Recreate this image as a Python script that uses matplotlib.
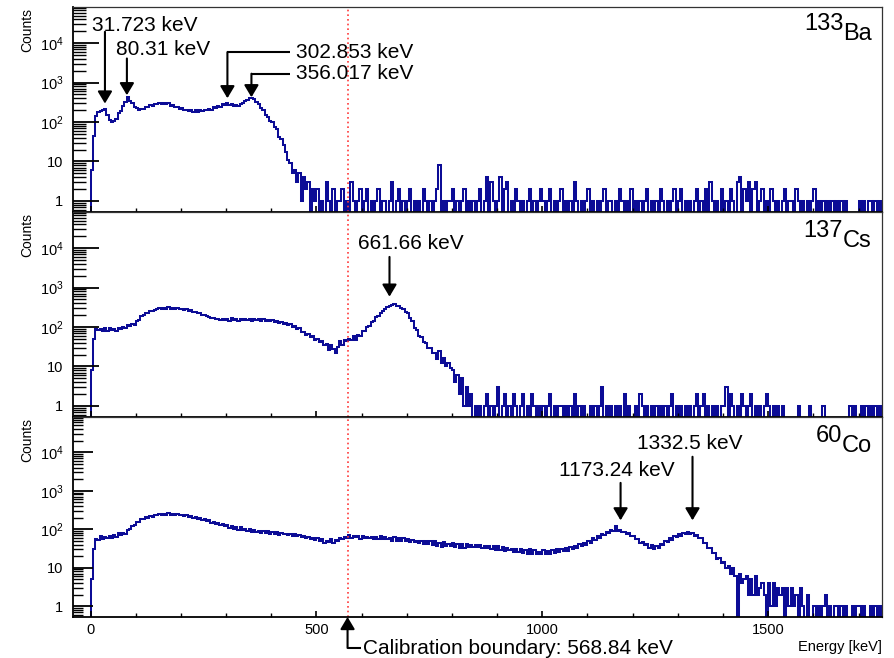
import numpy as np
import matplotlib
matplotlib.use("Agg")
import matplotlib.pyplot as plt
from matplotlib.ticker import FixedLocator, MultipleLocator, NullFormatter, LogLocator

plt.rcParams['font.family'] = ['Liberation Sans', 'DejaVu Sans']

# Gamma spectra, counts per 5 keV bin starting at 0 keV
bin_width = 5

ba133_counts = [
    6, 45, 140, 175, 190, 205, 218, 150, 112, 100,
    108, 122, 165, 195, 255, 325, 420, 345, 298, 245,
    232, 205, 212, 210, 240, 238, 270, 262, 290, 282,
    305, 292, 310, 288, 296, 262, 272, 240, 242, 220,
    222, 198, 206, 194, 200, 182, 198, 180, 196, 186,
    204, 198, 218, 205, 240, 228, 258, 245, 280, 268,
    300, 276, 285, 262, 272, 260, 292, 300, 348, 370,
    412, 418, 395, 330, 292, 225, 196, 152, 134, 104,
    100, 76, 66, 42, 38, 26, 17, 11, 9, 5,
    6, 3, 5, 1, 4, 2, 3, 0, 2, 1,
    2, 0, 1, 0, 3, 1, 0, 2, 0, 1,
    1, 2, 0, 1, 0, 3, 1, 0, 1, 2,
    0, 1, 2, 0, 1, 0, 1, 2, 0, 1,
    1, 0, 1, 3, 0, 1, 2, 0, 1, 0,
    1, 2, 0, 1, 0, 1, 0, 2, 1, 0,
    1, 0, 1, 2, 8, 0, 1, 0, 1, 1,
    2, 0, 1, 0, 1, 2, 0, 1, 0, 1,
    0, 1, 2, 0, 1, 4, 0, 3, 1, 0,
    1, 4, 0, 2, 3, 0, 1, 0, 2, 1,
    0, 1, 0, 1, 2, 0, 1, 0, 1, 2,
    1, 0, 1, 2, 0, 1, 0, 1, 2, 0,
    1, 0, 1, 0, 3, 1, 0, 1, 0, 1,
    2, 0, 1, 0, 1, 0, 1, 2, 0, 1,
    1, 0, 1, 0, 2, 1, 0, 1, 0, 2,
    0, 1, 0, 1, 0, 1, 2, 0, 1, 0,
    1, 0, 2, 1, 0, 1, 0, 1, 2, 0,
    1, 2, 0, 1, 0, 1, 0, 1, 2, 0,
    1, 0, 2, 0, 3, 1, 0, 1, 0, 2,
    0, 1, 0, 2, 1, 0, 3, 4, 0, 2,
    1, 3, 0, 2, 3, 0, 1, 2, 0, 1,
    0, 2, 1, 0, 1, 0, 1, 2, 0, 1,
    1, 0, 2, 1, 0, 1, 0, 1, 0, 1,
    2, 0, 1, 0, 1, 0, 1, 0, 1, 0,
    1, 0, 1, 0, 1, 0, 0, 0, 0, 0,
    1, 0, 1, 0, 1, 1, 0, 1, 0, 1,
]

cs137_counts = [
    8, 50, 88, 82, 90, 80, 92, 78, 94, 84,
    90, 80, 94, 88, 100, 92, 112, 105, 118, 115,
    140, 155, 192, 196, 222, 228, 252, 250, 278, 280,
    300, 288, 312, 292, 315, 290, 308, 286, 302, 284,
    292, 276, 280, 262, 266, 245, 242, 226, 224, 205,
    205, 186, 184, 170, 172, 160, 164, 152, 158, 150,
    158, 146, 166, 148, 160, 142, 164, 148, 156, 150,
    160, 144, 156, 150, 164, 140, 158, 144, 154, 138,
    150, 134, 140, 126, 134, 120, 124, 112, 116, 100,
    104, 88, 92, 76, 76, 64, 68, 55, 58, 46,
    50, 42, 44, 34, 38, 26, 35, 28, 22, 32,
    44, 35, 48, 44, 50, 46, 58, 48, 62, 60,
    78, 80, 102, 105, 135, 145, 180, 195, 232, 255,
    295, 315, 350, 360, 378, 350, 345, 300, 290, 242,
    225, 168, 140, 95, 84, 58, 55, 42, 40, 30,
    30, 22, 22, 15, 24, 12, 16, 10, 12, 9,
    8, 4, 6, 2, 5, 1, 3, 1, 2, 0,
    1, 0, 1, 0, 1, 2, 0, 1, 0, 1,
    3, 0, 1, 2, 0, 1, 0, 2, 1, 0,
    1, 2, 0, 1, 0, 2, 1, 0, 1, 0,
    1, 0, 1, 2, 0, 1, 0, 1, 1, 0,
    1, 0, 1, 0, 2, 0, 1, 0, 1, 0,
    0, 1, 0, 1, 0, 1, 3, 0, 1, 0,
    1, 0, 1, 0, 1, 0, 2, 0, 1, 0,
    0, 1, 0, 2, 1, 0, 1, 0, 1, 0,
    1, 0, 1, 0, 1, 0, 1, 2, 0, 1,
    0, 1, 0, 1, 0, 1, 0, 1, 2, 0,
    1, 2, 0, 1, 0, 1, 0, 1, 0, 1,
    1, 3, 0, 2, 1, 0, 1, 0, 2, 1,
    0, 1, 2, 0, 1, 0, 1, 0, 1, 2,
    1, 0, 1, 0, 1, 0, 1, 0, 0, 0,
    0, 0, 0, 1, 0, 0, 0, 0, 1, 0,
    0, 0, 0, 0, 1, 0, 0, 0, 0, 0,
    0, 0, 0, 0, 0, 0, 1, 0, 1, 0,
    0, 1, 0, 1, 0, 1, 0, 1, 0, 1,
]

co60_counts = [
    5, 30, 56, 52, 66, 54, 64, 58, 68, 60,
    70, 64, 78, 70, 82, 76, 94, 100, 124, 130,
    158, 158, 184, 182, 210, 200, 226, 214, 238, 228,
    248, 232, 256, 238, 258, 236, 246, 238, 244, 230,
    240, 220, 228, 214, 220, 198, 206, 184, 198, 174,
    182, 160, 170, 148, 158, 138, 146, 128, 136, 122,
    128, 110, 118, 104, 112, 96, 112, 94, 104, 90,
    100, 86, 96, 84, 90, 82, 92, 78, 88, 76,
    86, 74, 84, 72, 78, 74, 76, 70, 74, 68,
    76, 66, 72, 62, 68, 58, 64, 54, 58, 52,
    58, 48, 54, 44, 50, 46, 55, 44, 52, 50,
    60, 54, 64, 58, 72, 58, 68, 62, 67, 56,
    68, 58, 64, 58, 62, 56, 64, 54, 66, 56,
    62, 56, 60, 50, 62, 50, 60, 48, 58, 50,
    56, 46, 52, 46, 50, 44, 49, 42, 48, 42,
    48, 38, 48, 37, 45, 35, 46, 36, 42, 37,
    43, 34, 42, 33, 41, 32, 42, 34, 39, 34,
    40, 34, 38, 33, 37, 32, 36, 31, 37, 29,
    36, 28, 35, 27, 32, 28, 31, 26, 30, 26,
    31, 24, 28, 23, 30, 22, 29, 22, 26, 23,
    28, 22, 27, 23, 29, 24, 30, 25, 31, 27,
    32, 27, 35, 30, 36, 33, 41, 36, 45, 40,
    50, 44, 58, 52, 66, 60, 76, 70, 86, 80,
    95, 88, 118, 90, 98, 84, 86, 74, 80, 66,
    68, 54, 56, 43, 47, 38, 41, 33, 38, 31,
    36, 33, 41, 38, 50, 46, 58, 53, 66, 62,
    74, 68, 80, 74, 84, 76, 80, 68, 72, 58,
    58, 44, 45, 33, 32, 24, 24, 17, 18, 13,
    14, 10, 11, 7, 10, 6, 0, 7, 4, 5,
    6, 2, 5, 2, 6, 2, 3, 4, 2, 0,
    4, 1, 4, 1, 3, 2, 3, 0, 3, 1,
    3, 1, 2, 0, 3, 1, 0, 2, 0, 0,
    1, 0, 1, 0, 1, 2, 0, 1, 0, 1,
    1, 0, 1, 0, 1, 0, 0, 1, 0, 1,
    1, 0, 1, 0, 0, 1, 0, 1, 0, 1,
]

isotope_mass = ["133", "137", "60"]
isotope_symbol = ["Ba", "Cs", "Co"]
calibration_boundary = 568.84

ba_peaks = [31.723, 80.31, 302.853, 356.017]
cs_peaks = [661.66]
co_peaks = [1173.24, 1332.5]

line_color = "#0c0c96"
W, H = 894, 658

fig = plt.figure(figsize=(W / 100, H / 100), dpi=100)
fig.patch.set_facecolor("white")

# panel frames in pixels: (top, bottom)
frames = [(7, 212), (212, 417), (417, 617)]
ytick_len = [19, 19, 14.5]
left_px, right_px = 73, 882

spectra = [ba133_counts, cs137_counts, co60_counts]
axes = []
for i, ((top, bot), counts) in enumerate(zip(frames, spectra)):
    ax = fig.add_axes([left_px / W, 1 - bot / H, (right_px - left_px) / W, (bot - top) / H])
    axes.append(ax)
    c = np.asarray(counts, dtype=float)
    edges = np.arange(len(c) + 1) * bin_width
    ax.stairs(np.where(c > 0, c, 1e-3), edges, baseline=1e-3,
              color=line_color, lw=1.45)
    ax.set_yscale("log")
    ax.set_xlim(-39, 1752)
    ax.set_ylim(0.52, 8.3e4)

    ax.yaxis.set_major_locator(FixedLocator([1, 10, 100, 1e3, 1e4]))
    ax.set_yticklabels(["1", "10", r"$\mathregular{10^{2}}$",
                        r"$\mathregular{10^{3}}$", r"$\mathregular{10^{4}}$"])
    ax.yaxis.set_minor_locator(LogLocator(base=10, subs=np.arange(2, 10), numticks=30))
    ax.yaxis.set_minor_formatter(NullFormatter())
    ax.tick_params(axis="y", which="major", direction="in", length=ytick_len[i],
                   width=1.3, labelsize=10.5, pad=7, right=False)
    ax.tick_params(axis="y", which="minor", direction="in", length=ytick_len[i] / 2,
                   width=1.0, right=False)

    ax.xaxis.set_major_locator(FixedLocator([0, 500, 1000, 1500]))
    ax.xaxis.set_minor_locator(MultipleLocator(100))
    ax.tick_params(axis="x", which="major", direction="in", length=4.5, width=1.2,
                   labelsize=10.5, pad=4, top=False)
    ax.tick_params(axis="x", which="minor", direction="in", length=2.6, width=1.0, top=False)
    if i < 2:
        ax.tick_params(axis="x", labelbottom=False)

    for side in ("left", "bottom"):
        ax.spines[side].set_linewidth(1.3)
        ax.spines[side].set_color("black")
    for side in ("top", "right"):
        ax.spines[side].set_linewidth(0.9)
        ax.spines[side].set_color("#333333")

    ax.axvline(calibration_boundary, color="#ff3a3a", lw=1.2, ls=(0, (1.0, 1.8)), zorder=1)

    # isotope tag with raised mass number
    frac_y = [0.839, 0.829, 0.825][i]
    sym = ax.text(0.9876, frac_y, isotope_symbol[i], transform=ax.transAxes,
                  ha="right", va="baseline", fontsize=17)
    ax.annotate(isotope_mass[i], xy=(0, 0), xycoords=sym, xytext=(0, 10),
                textcoords="offset pixels", ha="right", va="bottom", fontsize=17)

    fig.text(27 / W, 1 - (top + 1) / H, "Counts", rotation=90, ha="center", va="top",
             fontsize=10)


def arrow(ax, pts, tip, coords="data"):
    """Polyline through pts ending in an arrowhead at tip."""
    tr = ax.transData if coords == "data" else ax.get_xaxis_transform()
    if len(pts) > 1:
        xs, ys = zip(*pts)
        ax.plot(xs, ys, color="k", lw=1.5, transform=tr, clip_on=False,
                solid_capstyle="butt")
    xyc = "data" if coords == "data" else ("data", "axes fraction")
    ax.annotate("", xy=tip, xycoords=xyc, xytext=pts[-1], textcoords=xyc,
                arrowprops=dict(arrowstyle="-|>,head_length=0.52,head_width=0.31",
                                color="k", lw=1.5, shrinkA=0, shrinkB=0,
                                mutation_scale=14),
                annotation_clip=False)


def label(ax, x, y, s):
    ax.text(x, y, s, fontsize=15, ha="left", va="center")


ax1, ax2, ax3 = axes

# 133Ba lines
label(ax1, 3, 28900, f"{ba_peaks[0]} keV")
arrow(ax1, [(ba_peaks[0], 19500)], (ba_peaks[0], 294))
label(ax1, 56, 7080, f"{ba_peaks[1]} keV")
arrow(ax1, [(ba_peaks[1], 4100)], (ba_peaks[1], 478))
label(ax1, 455, 5940, f"{ba_peaks[2]} keV")
arrow(ax1, [(441, 5940), (ba_peaks[2], 5940)], (ba_peaks[2], 401))
label(ax1, 455, 1683, f"{ba_peaks[3]} keV")
arrow(ax1, [(441, 1683), (ba_peaks[3], 1683)], (ba_peaks[3], 425))

# 137Cs line
label(ax2, 591.7, 12860, f"{cs_peaks[0]} keV")
arrow(ax2, [(cs_peaks[0], 6010)], (cs_peaks[0], 589))

# 60Co lines
label(ax3, 1036.7, 3283, f"{co_peaks[0]} keV")
arrow(ax3, [(co_peaks[0], 1604)], (co_peaks[0], 170))
label(ax3, 1208.6, 16480, f"{co_peaks[1]} keV")
arrow(ax3, [(co_peaks[1], 7670)], (co_peaks[1], 170))

# calibration boundary marker below the energy axis
arrow(ax3, [(598, -0.155), (calibration_boundary, -0.155)], (calibration_boundary, 0.0),
      coords="xaxis")
ax3.text(602.8, -0.155, f"Calibration boundary: {calibration_boundary} keV",
         transform=ax3.get_xaxis_transform(), fontsize=15, ha="left", va="center",
         clip_on=False)

fig.text(882 / W, 1 - 647 / H, "Energy [keV]", ha="right", va="center", fontsize=10.5)

fig.savefig("out.png", dpi=100, facecolor="white")
